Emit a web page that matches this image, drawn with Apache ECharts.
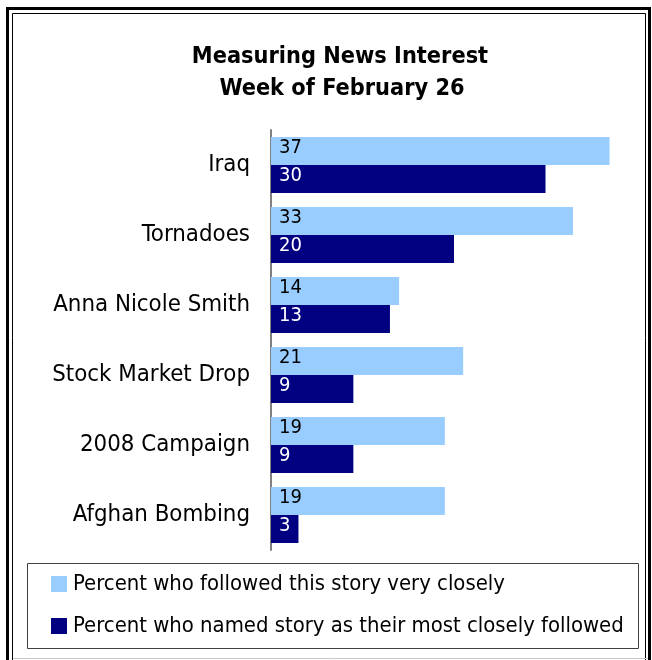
<!DOCTYPE html>
<html>
<head>
<meta charset="utf-8">
<script src="https://cdn.jsdelivr.net/npm/echarts@6/dist/echarts.min.js"></script>
<style>
  html, body { margin: 0; padding: 0; background: #fff; }
  #chart { width: 652px; height: 660px; }
</style>
</head>
<body>
<div id="chart"></div>
<script>
const categories = ['Iraq', 'Tornadoes', 'Anna Nicole Smith', 'Stock Market Drop', '2008 Campaign', 'Afghan Bombing']
const veryClosely = [37, 33, 14, 21, 19, 19]
const mostClosely = [30, 20, 13, 9, 9, 3]
const seriesNames = [
  'Percent who followed this story very closely',
  'Percent who named story as their most closely followed'
]
const titleLines = ['Measuring News Interest', 'Week of February 26']

const FONT = '"DejaVu Sans Condensed", sans-serif'
const LIGHT = '#99ccff'
const DARK = '#000080'

const chart = echarts.init(document.getElementById('chart'), null, { renderer: 'canvas' })

chart.setOption({
  animation: false,
  backgroundColor: '#fff',
  title: [
    {
      text: titleLines[0], left: 335, top: 40, textAlign: 'center',
      textStyle: { fontFamily: FONT, fontSize: 23.3, fontWeight: 'bold', color: '#000' }
    },
    {
      text: titleLines[1], left: 337, top: 72, textAlign: 'center',
      textStyle: { fontFamily: FONT, fontSize: 23.3, fontWeight: 'bold', color: '#000' }
    }
  ],
  grid: { left: 271, top: 130, width: 366, height: 420 },
  xAxis: {
    type: 'value', min: 0, max: 40, show: false
  },
  yAxis: {
    type: 'category',
    data: categories,
    inverse: true,
    axisLine: { show: true, lineStyle: { color: '#808080', width: 2 } },
    axisTick: { show: false },
    axisLabel: {
      fontFamily: FONT, fontSize: 23.8, color: '#000', margin: 21,
      verticalAlign: 'middle', padding: [0, 0, 17, 0]
    }
  },
  series: [
    {
      name: seriesNames[0], type: 'bar', data: veryClosely,
      barGap: '0%', barCategoryGap: '20%',
      itemStyle: { color: LIGHT },
      label: {
        show: true, position: 'insideLeft', distance: 8,
        fontFamily: FONT, fontSize: 20, color: '#000', offset: [0, -3]
      }
    },
    {
      name: seriesNames[1], type: 'bar', data: mostClosely,
      barGap: '0%', barCategoryGap: '20%',
      itemStyle: { color: DARK },
      label: {
        show: true, position: 'insideLeft', distance: 8,
        fontFamily: FONT, fontSize: 20, color: '#fff', offset: [0, -3]
      }
    }
  ],
  legend: {
    orient: 'vertical',
    left: 51, top: 573, padding: 0,
    itemWidth: 16, itemHeight: 16, itemGap: 20,
    icon: 'rect',
    textStyle: { fontFamily: FONT, fontSize: 21.9, color: '#000', padding: [0, 0, 0, 1] },
    data: seriesNames
  },
  graphic: [
    // outer double frame
    { type: 'rect', silent: true, z: 100, shape: { x: 7.5, y: 8.5, width: 642, height: 700 },
      style: { fill: null, stroke: '#000', lineWidth: 3 } },
    { type: 'rect', silent: true, z: 100, shape: { x: 12.5, y: 13.5, width: 633, height: 700 },
      style: { fill: null, stroke: '#000', lineWidth: 1 } },
    { type: 'line', silent: true, z: 100, shape: { x1: 13, y1: 658.5, x2: 648, y2: 658.5 },
      style: { stroke: '#c8c8c8', lineWidth: 1 } },
    // legend box
    { type: 'rect', silent: true, z: 100, shape: { x: 27.5, y: 563.5, width: 611, height: 85 },
      style: { fill: null, stroke: '#404040', lineWidth: 1 } }
  ]
})

window.addEventListener('resize', () => chart.resize())
</script>
</body>
</html>
